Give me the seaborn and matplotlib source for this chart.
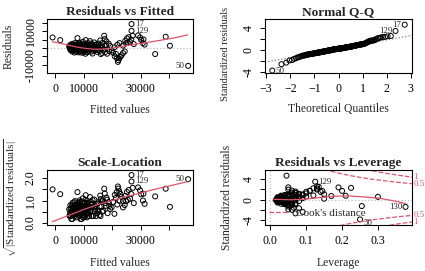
import numpy as np
import matplotlib
matplotlib.use("Agg")
import matplotlib.pyplot as plt
import seaborn as sns
from statistics import NormalDist
from matplotlib.lines import Line2D

obs_ids = ["17", "129", "50", "130"]

fitted = [
    26800, 26800, 46700, 35100,
    -950, 1750, 38800, 40300,
    # 24000 - 32000
    25200, 24600, 25800, 26300, 24900, 27200, 26700, 25500, 27600, 29100,
    29800, 30200, 30800, 31400, 31000, 23800, 22600,
    # 20000 - 24500, the falling streak
    24400, 23800, 23300, 22900, 22500, 22200, 22000, 21600, 20900, 21300,
    20300, 19800,
    # 16500 - 22000
    17200, 17400, 18000, 18800, 19300, 17800, 18400, 19000, 17500, 18200,
    20800, 21800, 16600, 16900,
    # 12000 - 16500
    12200, 12600, 12900, 13300, 13700, 14100, 14400, 14800, 15100, 15500,
    15800, 16200, 16400, 12300, 12700, 13100, 13500, 13900, 14300, 14700,
    15200, 15600, 16000, 12400, 13000, 14000, 14900, 15900, 16500, 12800,
    # 8000 - 12000
    8100, 8200, 8300, 8400, 8500, 8600, 8700, 8800, 8900, 9000,
    9100, 9200, 9300, 9400, 9500, 9600, 9700, 9800, 9900, 10000,
    10100, 10200, 10300, 10400, 10500, 10600, 10700, 10800, 10900, 11000,
    11100, 11200, 11300, 11400, 11500, 11600, 11700, 11800, 11900, 8250,
    8750, 9250, 9750, 10250, 10750, 11250, 9050, 10050, 10550, 11050,
    # 4500 - 8000
    4900, 5100, 5200, 5300, 5400, 5500, 5600, 5700, 5800, 5900,
    6000, 6100, 6200, 6300, 6400, 6500, 6600, 6700, 6800, 6900,
    7000, 7100, 7200, 7300, 7400, 7500, 7600, 7700, 7800, 7900,
    5050, 5650, 6250, 6850, 7450, 7850,
]

residuals = [
    14500, 10400, -10700, -3600,
    6400, 4800, 6800, 1400,
    5800, 4400, 6600, 3600, 2900, 7400, 5100, 3300, 2400, 7600,
    6400, 4900, 3000, 2100, 5200, 1500, 3000,
    -2000, -3000, -4300, -5200, -6200, -7300, -8300, -6000, -4900, -3500,
    -2800, -1500,
    7400, 5400, 4000, 2600, 1200, 1800, -600, -1800, -2500, -3400,
    500, 2000, 3200, -900,
    4200, 2800, 1500, 300, 3400, -1200, 2200, -2300, 800, -400,
    4600, 1700, -2900, -800, -2100, -3300, -1600, 900, -300, 600,
    2700, -1700, -3600, 1000, 2300, 1800, -1000, 300, 800, -300,
    2400, 600, -1200, 1500, -300, 3200, -2200, 800, 100, -1600,
    2000, -700, 1200, -2800, 400, -1100, 3800, 1700, -400, 900,
    -1900, 200, 2600, -900, 1300, -3400, 4800, 500, -1400, 2100,
    -200, 1000, -2500, 3000, 600, -800, 1800, -1700, 300, -2600,
    2800, 100, -200, -1300, 1600, -600, 600, -2400, 300, 1400,
    1200, -300, 600, 2000, -1200, 300, 1500, -800, 900, -2000,
    100, 2600, -500, 1100, -1500, 400, 1800, -2700, 700, -300,
    3000, 1300, -1000, 500, -2200, 2200, -600, 1000, 6000, -1800,
    400, -100, 1400, -1300, 200, 800,
]

leverage = [
    0.045, 0.125, 0.25, 0.377,
    0.225, 0.20, 0.19, 0.30,
    0.13, 0.14, 0.12, 0.10, 0.09, 0.135, 0.11, 0.08, 0.12, 0.13,
    0.13, 0.145, 0.15, 0.21, 0.11, 0.07, 0.09,
    0.06, 0.07, 0.05, 0.08, 0.06, 0.09, 0.07, 0.05, 0.065, 0.255,
    0.04, 0.06,
    0.05, 0.06, 0.07, 0.09, 0.08, 0.10, 0.07, 0.055, 0.045, 0.06,
    0.15, 0.17, 0.05, 0.08,
    0.06, 0.04, 0.05, 0.07, 0.08, 0.05, 0.06, 0.07, 0.09, 0.05,
    0.10, 0.08, 0.06, 0.03, 0.04, 0.05, 0.06, 0.04, 0.05, 0.03,
    0.07, 0.06, 0.05, 0.04, 0.05, 0.03, 0.04, 0.06, 0.07, 0.02,
    0.03, 0.04, 0.02, 0.05, 0.03, 0.06, 0.04, 0.03, 0.02, 0.05,
    0.04, 0.03, 0.06, 0.04, 0.02, 0.03, 0.07, 0.05, 0.04, 0.03,
    0.02, 0.05, 0.06, 0.04, 0.03, 0.05, 0.07, 0.04, 0.03, 0.06,
    0.05, 0.04, 0.06, 0.08, 0.05, 0.04, 0.07, 0.06, 0.05, 0.03,
    0.05, 0.04, 0.03, 0.04, 0.05, 0.06, 0.03, 0.04, 0.05, 0.04,
    0.02, 0.015, 0.025, 0.03, 0.02, 0.018, 0.03, 0.025, 0.02, 0.035,
    0.03, 0.04, 0.02, 0.03, 0.025, 0.04, 0.03, 0.05, 0.02, 0.03,
    0.05, 0.04, 0.03, 0.02, 0.04, 0.05, 0.03, 0.04, 0.05, 0.045,
    0.02, 0.03, 0.02, 0.035, 0.03, 0.04,
]

resid_se = 3250
n_params = 12

# smoother curves
rf_smooth_x = [-1000, 2000, 5000, 8000, 11000, 14000, 17000, 20000, 23000, 27000, 32000, 37000, 42000, 46500]
rf_smooth_y = [3800, 2800, 1600, 500, -300, -700, -600, 0, 900, 2000, 3300, 4700, 6200, 7900]
sl_smooth_x = [-1000, 5000, 10000, 15000, 20000, 25000, 30000, 35000, 40000, 46500]
sl_smooth_y = [0.06, 0.35, 0.6, 0.82, 1.0, 1.18, 1.34, 1.5, 1.65, 1.84]
lev_smooth_x = [0.01, 0.03, 0.06, 0.10, 0.14, 0.18, 0.22, 0.26, 0.30, 0.34, 0.377]
lev_smooth_y = [0.05, 0.0, -0.05, 0.1, 0.4, 0.65, 0.7, 0.5, 0.3, -0.2, -0.75]

fitted = np.array(fitted, float)
residuals = np.array(residuals, float)
leverage = np.array(leverage, float)
std_resid = residuals / (resid_se * np.sqrt(1 - leverage))

RED = "#DF536B"
sns.set_style("ticks")
plt.rcParams["font.family"] = ["Liberation Serif", "DejaVu Serif"]
plt.rcParams["mathtext.fontset"] = "custom"
plt.rcParams["mathtext.rm"] = "Liberation Serif"
plt.rcParams["mathtext.it"] = "Liberation Serif:italic"

fig = plt.figure(figsize=(4.25, 2.71), dpi=100)
W, H = 425, 271


def make_ax(x0, x1, y0, y1):
    return fig.add_axes([x0 / W, 1 - y1 / H, (x1 - x0) / W, (y1 - y0) / H])


def style(ax, title, xlabel, ylabel, xlab_y, ylab_x, ylab_size=8.4, ylab_y=0.5):
    for s in ax.spines.values():
        s.set_linewidth(0.8)
        s.set_color("black")
    ax.tick_params(direction="out", length=3.8, width=0.7, pad=3.5, labelsize=8.6, colors="black")
    ax.set_title(title, fontsize=9.6, fontweight="bold", pad=3)
    ax.set_xlabel(xlabel, fontsize=8.4)
    ax.set_ylabel(ylabel, fontsize=ylab_size)
    ax.xaxis.label.set_va("center")
    ax.yaxis.label.set_va("center")
    ax.xaxis.set_label_coords(0.5, xlab_y)
    ax.yaxis.set_label_coords(ylab_x, ylab_y)


def points(ax, x, y):
    sns.scatterplot(x=x, y=y, ax=ax, marker="o", s=13, facecolors="none",
                    edgecolor="black", linewidth=0.7, legend=False)


def tag(ax, x, y, txt, right=True, dy=0):
    ax.annotate(txt, (x, y), xytext=(2.5 if right else -2.5, dy), textcoords="offset points",
                ha="left" if right else "right", va="center", fontsize=6.3)


def yticks(ax, vals, labs):
    ax.set_yticks(vals)
    ax.set_yticklabels(labs, rotation=90, va="center")


# --- Residuals vs Fitted
ax1 = make_ax(47, 193, 19, 73)
points(ax1, fitted, residuals)
ax1.axhline(0, color="#BEBEBE", ls=":", lw=0.9, zorder=0)
sns.lineplot(x=rf_smooth_x, y=rf_smooth_y, ax=ax1, color=RED, lw=0.9)
ax1.set_xlim(-2900, 48400)
ax1.set_ylim(-15000, 17500)
ax1.set_xticks([0, 10000, 20000, 30000, 40000])
ax1.set_xticklabels(["0", "10000", "", "30000", ""])
yticks(ax1, [-10000, -5000, 0, 5000, 10000, 15000], ["-10000", "", "", "", "10000", ""])
style(ax1, "Residuals vs Fitted", "Fitted values", "Residuals", -0.69, -0.26)
for i, right in [(0, True), (1, True), (2, False)]:
    tag(ax1, fitted[i], residuals[i], obs_ids[i], right)

# --- Normal Q-Q
ax2 = make_ax(265, 412, 19, 73)
n = len(std_resid)
order = np.argsort(std_resid)
probs = [(k + 0.5) / n for k in range(n)]
theo = np.array([NormalDist().inv_cdf(p) for p in probs])
qx = np.empty(n)
qx[order] = theo
points(ax2, qx, std_resid)
q1, q3 = np.percentile(std_resid, [25, 75])
z3 = NormalDist().inv_cdf(0.75)
slope = (q3 - q1) / (2 * z3)
ax2.axline((0, q1 + slope * z3), slope=slope, color="#7F7F7F", ls=":", lw=0.9, zorder=0)
ax2.set_xlim(-3.05, 3.05)
ax2.set_ylim(-4.25, 5.6)
ax2.set_xticks([-3, -2, -1, 0, 1, 2, 3])
yticks(ax2, [-4, -2, 0, 2, 4], ["-4", "", "0", "", "4"])
style(ax2, "Normal Q-Q", "Theoretical Quantiles", "Standardized residuals", -0.67, -0.27,
      ylab_size=7.5, ylab_y=0.36)
for i, right in [(0, False), (1, False), (2, True)]:
    tag(ax2, qx[i], std_resid[i], obs_ids[i], right)

# --- Scale-Location
ax3 = make_ax(47, 193, 170, 225)
sl = np.sqrt(np.abs(std_resid))
points(ax3, fitted, sl)
sns.lineplot(x=sl_smooth_x, y=sl_smooth_y, ax=ax3, color=RED, lw=0.9)
ax3.set_xlim(-2900, 48400)
ax3.set_ylim(-0.09, 2.36)
ax3.set_xticks([0, 10000, 20000, 30000, 40000])
ax3.set_xticklabels(["0", "10000", "", "30000", ""])
yticks(ax3, [0, 0.5, 1.0, 1.5, 2.0], ["0.0", "", "1.0", "", "2.0"])
style(ax3, "Scale-Location", "Fitted values",
      r"$\sqrt{|\mathrm{Standardized\ residuals}|}$", -0.69, -0.25, ylab_size=8.0)
for i, right in [(0, True), (1, True), (2, False)]:
    tag(ax3, fitted[i], sl[i], obs_ids[i], right)

# --- Residuals vs Leverage
ax4 = make_ax(265, 412, 170, 225)
points(ax4, leverage, std_resid)
ax4.axhline(0, color="#BEBEBE", ls=":", lw=0.9, zorder=0)
ax4.axvline(0, color="#BEBEBE", ls=":", lw=0.9, zorder=0)
sns.lineplot(x=lev_smooth_x, y=lev_smooth_y, ax=ax4, color=RED, lw=0.9)
xmax = 0.395
hh = np.linspace(0.002, xmax, 200)
for lvl in [0.5, 1.0]:
    cy = np.sqrt(lvl * n_params * (1 - hh) / hh)
    ax4.plot(hh, cy, color=RED, ls="--", lw=0.9)
    ax4.plot(hh, -cy, color=RED, ls="--", lw=0.9)
    ey = np.sqrt(lvl * n_params * (1 - xmax) / xmax)
    lab = "1" if lvl == 1.0 else "0.5"
    for sgn in (1, -1):
        ax4.text(1.01, sgn * ey, lab, color=RED, fontsize=6.3, ha="left", va="center",
                 transform=ax4.get_yaxis_transform(), clip_on=False)
ax4.set_xlim(-0.015, xmax)
ax4.set_ylim(-4.87, 5.65)
ax4.set_xticks([0.0, 0.1, 0.2, 0.3])
yticks(ax4, [-4, -2, 0, 2, 4], ["-4", "", "0", "", "4"])
style(ax4, "Residuals vs Leverage", "Leverage", "Standardized residuals", -0.69, -0.258)
for i, right, dy in [(1, True, 0), (2, True, -2.5), (3, False, 0)]:
    tag(ax4, leverage[i], std_resid[i], obs_ids[i], right, dy)
ax4.legend(handles=[Line2D([], [], color=RED, ls="--", lw=0.9)], labels=["Cook's distance"],
           loc="lower left", bbox_to_anchor=(0.0, 0.06), frameon=False, fontsize=8,
           handlelength=1.6, handletextpad=0.8, borderaxespad=0.15, borderpad=0.2)

fig.savefig("out.png", dpi=100)
